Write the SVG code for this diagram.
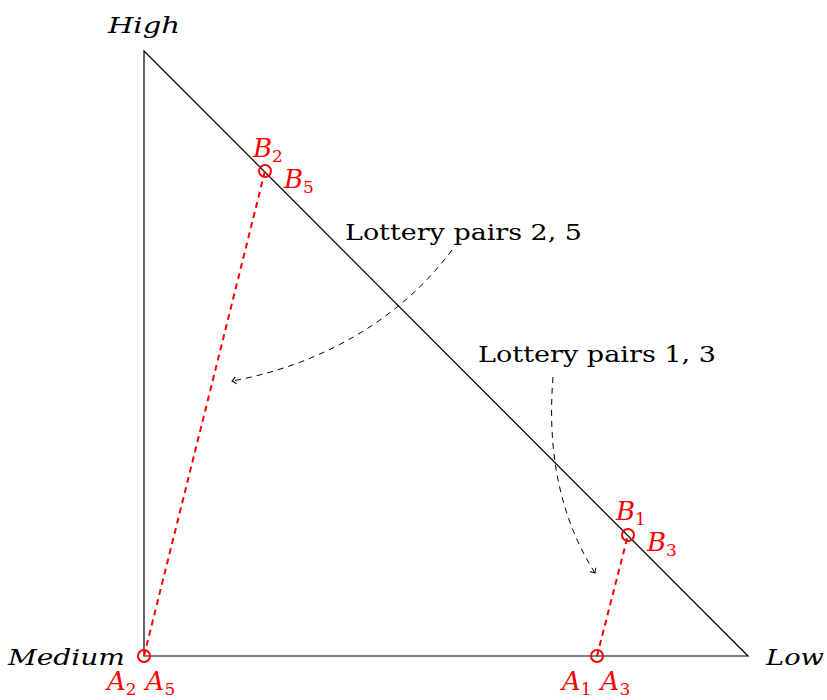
<svg xmlns="http://www.w3.org/2000/svg" width="827" height="700" viewBox="0 0 827 700">
<style>
.tri{fill:none;stroke:#000;stroke-width:1.2}
.rd{fill:none;stroke:#f00;stroke-width:2;stroke-dasharray:6,4.5}
.pt{fill:none;stroke:#f00;stroke-width:2}
.arr{fill:none;stroke:#000;stroke-width:1;stroke-dasharray:6,5}
.lab{font-family:"DejaVu Serif","Liberation Serif",serif;font-size:22px;fill:#000}
.it{font-family:"DejaVu Serif","Liberation Serif",serif;font-style:italic;font-size:23px;fill:#000}
.rl{font-family:"DejaVu Serif","Liberation Serif",serif;font-style:italic;font-size:26px;fill:#f00}
.sub{font-style:normal;font-size:17px}
</style>
<defs>
<marker id="ah" markerWidth="10" markerHeight="10" refX="0" refY="0" viewBox="-6 -5 8 10" orient="auto" markerUnits="userSpaceOnUse">
<path d="M-4,-3.5 Q-1.5,-1 0,0 Q-1.5,1 -4,3.5" fill="none" stroke="#000" stroke-width="1"/>
</marker>
</defs>
<g id="triangle">
<path class="tri" d="M144,51 L144,656 L748,656 Z"/>
</g>
<g id="connectors">
<line class="rd" x1="144" y1="656" x2="265" y2="171"/>
<line class="rd" x1="597" y1="656" x2="628" y2="535"/>
<path class="arr" d="M452,250 C400,320 320,365 232,381" marker-end="url(#ah)"/>
<path class="arr" d="M553,377 C548,440 555,510 595,573" marker-end="url(#ah)"/>
</g>
<g id="points">
<circle class="pt" cx="265" cy="171" r="6"/>
<circle class="pt" cx="628" cy="535" r="6"/>
<circle class="pt" cx="144" cy="656" r="6"/>
<circle class="pt" cx="597" cy="656" r="6"/>
</g>
<g id="vertex-labels">
<text class="it" x="108" y="33" textLength="72" lengthAdjust="spacingAndGlyphs">High</text>
<text class="it" x="8" y="665" textLength="117" lengthAdjust="spacingAndGlyphs">Medium</text>
<text class="it" x="766" y="665" textLength="58" lengthAdjust="spacingAndGlyphs">Low</text>
</g>
<g id="point-labels">
<text class="rl" x="253" y="157">B<tspan class="sub" dy="5">2</tspan></text>
<text class="rl" x="284" y="188">B<tspan class="sub" dy="5">5</tspan></text>
<text class="rl" x="616" y="520">B<tspan class="sub" dy="5">1</tspan></text>
<text class="rl" x="647" y="551">B<tspan class="sub" dy="5">3</tspan></text>
<text class="rl" x="107" y="690">A<tspan class="sub" dy="5">2</tspan><tspan dy="-5" dx="9">A</tspan><tspan class="sub" dy="5">5</tspan></text>
<text class="rl" x="562" y="690">A<tspan class="sub" dy="5">1</tspan><tspan dy="-5" dx="9">A</tspan><tspan class="sub" dy="5">3</tspan></text>
</g>
<g id="notes">
<text class="lab" x="345" y="240" textLength="237" lengthAdjust="spacingAndGlyphs">Lottery pairs 2, 5</text>
<text class="lab" x="478" y="362" textLength="238" lengthAdjust="spacingAndGlyphs">Lottery pairs 1, 3</text>
</g>
</svg>
